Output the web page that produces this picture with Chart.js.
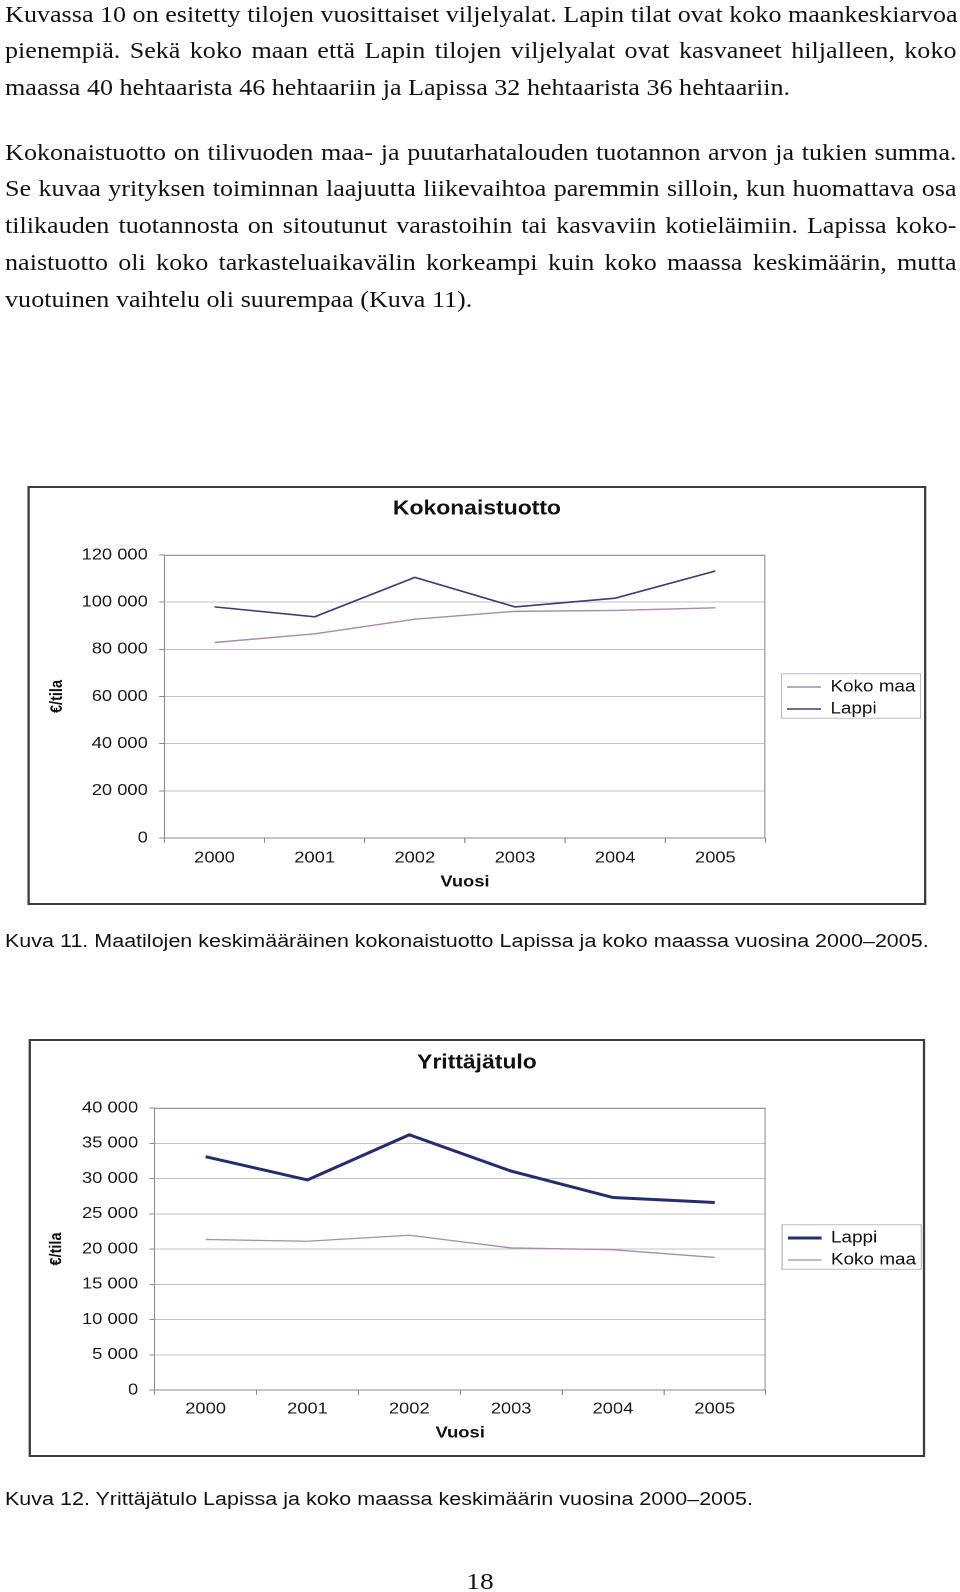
<!DOCTYPE html>
<html>
<head>
<meta charset="utf-8">
<script src="https://cdn.jsdelivr.net/npm/chart.js@4.4.0/dist/chart.umd.min.js"></script>
<style>
html,body{margin:0;padding:0;background:#fff;}
body{width:960px;height:1592px;overflow:hidden;}
#page{position:relative;width:838.43px;height:1592px;transform:scaleX(1.145);transform-origin:0 0;}
.para{position:absolute;left:4.4px;width:831px;font-family:'Liberation Serif','Times New Roman',serif;font-size:22.8px;line-height:36.7px;color:#111;}
.para div{white-space:nowrap;text-align:justify;text-align-last:justify;}
.para div.last{text-align:left;text-align-last:left;}
.cap{position:absolute;left:4.4px;font-family:'Liberation Sans',Arial,sans-serif;font-size:18.8px;line-height:18.8px;color:#111;white-space:nowrap;}
.box{position:absolute;border:2px solid #3c3c3c;background:#fff;}
.box canvas{display:block;}
#pnum{position:absolute;left:0;width:838.43px;text-align:center;top:1569px;font-family:'Liberation Serif','Times New Roman',serif;font-size:24px;line-height:24px;color:#111;}
</style>
</head>
<body>
<div id="page">
  <div class="para" style="top:-3.4px;">
    <div>Kuvassa 10 on esitetty tilojen vuosittaiset viljelyalat. Lapin tilat ovat koko maankeskiarvoa</div>
    <div>pienempiä. Sekä koko maan että Lapin tilojen viljelyalat ovat kasvaneet hiljalleen, koko</div>
    <div class="last">maassa 40 hehtaarista 46 hehtaariin ja Lapissa 32 hehtaarista 36 hehtaariin.</div>
  </div>
  <div class="para" style="top:134.7px;">
    <div>Kokonaistuotto on tilivuoden maa- ja puutarhatalouden tuotannon arvon ja tukien summa.</div>
    <div>Se kuvaa yrityksen toiminnan laajuutta liikevaihtoa paremmin silloin, kun huomattava osa</div>
    <div>tilikauden tuotannosta on sitoutunut varastoihin tai kasvaviin kotieläimiin. Lapissa koko-</div>
    <div>naistuotto oli koko tarkasteluaikavälin korkeampi kuin koko maassa keskimäärin, mutta</div>
    <div class="last">vuotuinen vaihtelu oli suurempaa (Kuva 11).</div>
  </div>

  <div class="box" style="left:23.6px;top:486px;width:781px;height:415px;">
    <canvas id="c1" width="781" height="415"></canvas>
  </div>
  <div class="cap" style="top:931.8px;">Kuva 11. Maatilojen keskimääräinen kokonaistuotto Lapissa ja koko maassa vuosina 2000–2005.</div>

  <div class="box" style="left:25.3px;top:1039px;width:779px;height:414px;">
    <canvas id="c2" width="779" height="414"></canvas>
  </div>
  <div class="cap" style="top:1489.6px;">Kuva 12. Yrittäjätulo Lapissa ja koko maassa keskimäärin vuosina 2000–2005.</div>

  <div id="pnum">18</div>
</div>

<script>
// ---- data ----
const years = ['2000', '2001', '2002', '2003', '2004', '2005'];

const kokonaistuottoKokoMaa = [82900, 86600, 92800, 96100, 96500, 97600];
const kokonaistuottoLappi   = [98000, 93800, 110500, 98000, 101700, 113200];
const kokonaistuottoTicks   = [0, 20000, 40000, 60000, 80000, 100000, 120000];

const yrittajatuloLappi   = [33100, 29800, 36200, 31050, 27300, 26600];
const yrittajatuloKokoMaa = [21350, 21100, 21950, 20150, 19900, 18800];
const yrittajatuloTicks   = [0, 5000, 10000, 15000, 20000, 25000, 30000, 35000, 40000];

// ---- styling ----
const SANS = "'Liberation Sans', Arial, sans-serif";
const fmt = v => String(v).replace(/\B(?=(\d{3})+(?!\d))/g, ' ');

const framePlugin = {
  id: 'frame',
  afterLayout(chart, args, o) {
    const tb = chart.titleBlock;
    if (tb) { tb.left = 0; tb.right = chart.width; tb.width = chart.width; }
    const lg = chart.legend;
    if (lg) {
      lg.left = o.legendLeft; lg.right = o.legendLeft + lg.width + 12; lg.width = lg.right - lg.left;
      lg.top = o.legendTop; lg.bottom = o.legendTop + 80; lg.height = 80;
    }
  },
  beforeDatasetsDraw(chart) {
    const {ctx, chartArea: a} = chart;
    ctx.save();
    ctx.strokeStyle = '#9a9a9a';
    ctx.lineWidth = 1;
    ctx.beginPath();
    ctx.moveTo(a.left, a.top + 0.5);
    ctx.lineTo(a.right - 0.5, a.top + 0.5);
    ctx.lineTo(a.right - 0.5, a.bottom);
    ctx.stroke();
    ctx.restore();
  },
  afterDraw(chart) {
    const lg = chart.legend;
    if (!lg || !lg.legendHitBoxes || !lg.legendHitBoxes.length) return;
    const hb = lg.legendHitBoxes;
    let r = 0;
    hb.forEach(h => { r = Math.max(r, h.left + h.width); });
    const x0 = lg.left + 0.5, x1 = r + 4.5;
    const y0 = hb[0].top - 5, y1 = hb[hb.length - 1].top + hb[hb.length - 1].height + 1;
    const ctx = chart.ctx;
    ctx.save();
    ctx.strokeStyle = '#bdbdbd';
    ctx.lineWidth = 1;
    ctx.strokeRect(x0, y0, x1 - x0, y1 - y0);
    ctx.restore();
  }
};

function buildChart(id, c) {
  return new Chart(document.getElementById(id), {
    type: 'line',
    data: { labels: years, datasets: c.datasets },
    options: {
      responsive: false,
      animation: false,
      devicePixelRatio: 2,
      layout: { padding: { left: 0, right: c.padRight, top: 0, bottom: 0 } },
      elements: { point: { radius: 0, hoverRadius: 0 }, line: { tension: 0 } },
      plugins: {
        tooltip: { enabled: false },
        title: {
          display: true, text: c.title, color: '#111',
          font: { family: SANS, size: 20, weight: 'bold' },
          padding: { top: c.titleTop, bottom: 67 - c.titleTop - 24 }
        },
        legend: {
          position: 'chartArea', align: 'start',
          labels: {
            usePointStyle: true, pointStyle: 'line', pointStyleWidth: 29.5,
            padding: 5.5, color: '#111',
            font: { family: SANS, size: 16.5 }
          }
        },
        frame: { legendLeft: c.legendLeft, legendTop: c.legendTop }
      },
      scales: {
        x: {
          offset: true,
          grid: { offset: true, drawOnChartArea: false, drawTicks: true, tickLength: 5, tickColor: '#8a8a8a' },
          border: { display: true, color: '#8a8a8a', width: 1 },
          ticks: { color: '#1a1a1a', font: { family: SANS, size: 16 }, padding: c.xTickPad, maxRotation: 0 },
          title: { display: true, text: 'Vuosi', color: '#111', font: { family: SANS, size: 16, weight: 'bold' }, padding: { top: 0, bottom: c.xTitleBottom } },
          afterFit: s => { s.height = c.xHeight; }
        },
        y: {
          min: 0, max: c.yMax,
          afterBuildTicks: s => { s.ticks = c.yTicks.map(v => ({ value: v })); },
          grid: { color: '#c2c2c2', lineWidth: 1, drawTicks: true, tickLength: 4.5, tickColor: '#8a8a8a' },
          border: { display: true, color: '#8a8a8a', width: 1 },
          ticks: { color: '#1a1a1a', font: { family: SANS, size: 16 }, padding: 10, callback: v => fmt(v) },
          title: { display: true, text: '€/tila', color: '#111', font: { family: SANS, size: 14.5, weight: 'bold' }, padding: { top: c.yTitleTop, bottom: 0 } },
          afterFit: s => { s.width = c.yWidth; }
        }
      }
    },
    plugins: [framePlugin]
  });
}

buildChart('c1', {
  title: 'Kokonaistuotto',
  datasets: [
    { label: 'Koko maa', data: kokonaistuottoKokoMaa, borderColor: '#a88ca8', backgroundColor: '#a88ca8', borderWidth: 1.4 },
    { label: 'Lappi', data: kokonaistuottoLappi, borderColor: '#3b3e70', backgroundColor: '#3b3e70', borderWidth: 1.6 }
  ],
  yMax: 120000, yTicks: kokonaistuottoTicks,
  padRight: 138.5, yWidth: 117.6, yTitleTop: 15.5,
  titleTop: 9, xHeight: 65, xTickPad: 5.4, xTitleBottom: 11.4,
  legendLeft: 656, legendTop: 185.25
});

buildChart('c2', {
  title: 'Yrittäjätulo',
  datasets: [
    { label: 'Lappi', data: yrittajatuloLappi, borderColor: '#262d6c', backgroundColor: '#262d6c', borderWidth: 3 },
    { label: 'Koko maa', data: yrittajatuloKokoMaa, borderColor: '#a88ca8', backgroundColor: '#a88ca8', borderWidth: 1.3 }
  ],
  yMax: 40000, yTicks: yrittajatuloTicks,
  padRight: 137.3, yWidth: 108.1, yTitleTop: 13.8,
  titleTop: 10, xHeight: 65, xTickPad: 4.4, xTitleBottom: 12.4,
  legendLeft: 655.5, legendTop: 183.25
});
</script>
</body>
</html>
